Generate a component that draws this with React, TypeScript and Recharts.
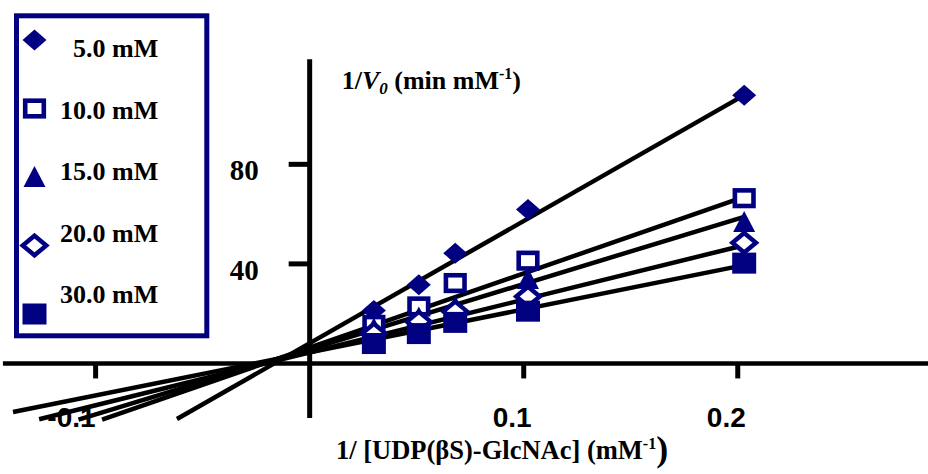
import React from 'react';
import { ComposedChart, Line, ReferenceLine, Scatter, XAxis, YAxis } from 'recharts';

// 1/[S] for each substrate level (mM^-1)
const invSubstrate = [0.030, 0.051, 0.068, 0.102, 0.203];

// 1/V0 readings per inhibitor concentration (min mM^-1)
const rate5mM = [21.3, 31.6, 44.3, 61.9, 107.8];
const rate10mM = [15.5, 22.9, 32.3, 41.3, 66.4];
const rate15mM = [14.0, 18.5, 22.9, 33.9, 56.8];
const rate20mM = [12.0, 16.8, 20.9, 26.9, 48.5];
const rate30mM = [8.0, 12.0, 16.5, 21.0, 40.3];

// fitted lines, left and right end points
const fitLeftX = [-0.062, -0.097, -0.108, -0.1264, -0.1386];
const fitLeftY = [-22.3, -22.6, -22.6, -22.4, -19.5];
const fitRightX = [0.203, 0.203, 0.203, 0.203, 0.203];
const fitRightY = [107.8, 66.9, 58.9, 47.5, 39.5];

const seriesNames = ['5.0 mM', '10.0 mM', '15.0 mM', '20.0 mM', '30.0 mM'];
const markerKinds = ['diamond', 'openSquare', 'triangle', 'openDiamond', 'square'];
const seriesRates = [rate5mM, rate10mM, rate15mM, rate20mM, rate30mM];

const xTickValues = [-0.1, 0.1, 0.2];
const xTickLabels = ['-0.1', '0.1', '0.2'];
const yTickValues = [40, 80];
const yTickLabels = ['40', '80'];

// extent of the drawn axis lines
const xAxisFrom = -0.1433;
const xAxisTo = 0.2889;
const yAxisFrom = -21.9;
const yAxisTo = 122.2;

const NAVY = '#000080';
const SERIF = '"Liberation Serif", "Times New Roman", serif';
const SANS = '"Liberation Sans", Arial, sans-serif';

const Marker = ({ kind, cx, cy }: { kind: string; cx: number; cy: number }) => {
  switch (kind) {
    case 'diamond':
      return <polygon points={`${cx},${cy - 10.5} ${cx + 12},${cy} ${cx},${cy + 10.5} ${cx - 12},${cy}`} fill={NAVY} />;
    case 'openSquare':
      return <rect x={cx - 9.3} y={cy - 7.8} width={18.6} height={15.6} fill="#fff" stroke={NAVY} strokeWidth={4.6} />;
    case 'triangle':
      return <polygon points={`${cx},${cy - 11} ${cx + 11},${cy + 10} ${cx - 11},${cy + 10}`} fill={NAVY} />;
    case 'openDiamond':
      return (
        <polygon
          points={`${cx},${cy - 9.8} ${cx + 11.8},${cy} ${cx},${cy + 9.8} ${cx - 11.8},${cy}`}
          fill="#fff"
          stroke={NAVY}
          strokeWidth={4.4}
        />
      );
    default:
      return <rect x={cx - 12} y={cy - 10.5} width={24} height={21} fill={NAVY} />;
  }
};

const App = () => {
  const xTickData = xTickValues.map((x, i) => ({ x, y: 0, label: xTickLabels[i] }));
  const yTickData = yTickValues.map((y, i) => ({ x: 0, y, label: yTickLabels[i] }));

  return (
    <div style={{ position: 'absolute', left: 0, top: 0, width: 928, height: 474, background: '#fff' }}>
      <ComposedChart width={928} height={474} margin={{ top: 15, right: 19, bottom: 11, left: 10 }}>
        <XAxis type="number" dataKey="x" domain={[-0.14, 0.28]} allowDataOverflow hide />
        <YAxis type="number" dataKey="y" domain={[-40, 140]} allowDataOverflow hide />

        <ReferenceLine
          segment={[{ x: xAxisFrom, y: 0 }, { x: xAxisTo, y: 0 }]}
          stroke="#000"
          strokeWidth={4.6}
          ifOverflow="visible"
        />
        <ReferenceLine
          segment={[{ x: 0, y: yAxisFrom }, { x: 0, y: yAxisTo }]}
          stroke="#000"
          strokeWidth={5}
          ifOverflow="visible"
        />

        <Scatter
          data={xTickData}
          dataKey="y"
          isAnimationActive={false}
          shape={(p: any) => (
            <g>
              <line x1={p.cx} y1={p.cy} x2={p.cx} y2={p.cy + 15} stroke="#000" strokeWidth={5} />
              <text
                x={p.cx + (p.payload.x < 0 ? 0 : 8)}
                y={p.cy + 64}
                textAnchor="end"
                fontFamily={SANS}
                fontWeight="bold"
                fontSize={28}
              >
                {p.payload.label}
              </text>
            </g>
          )}
        />
        <Scatter
          data={yTickData}
          dataKey="y"
          isAnimationActive={false}
          shape={(p: any) => (
            <g>
              <line x1={p.cx - 21} y1={p.cy} x2={p.cx} y2={p.cy} stroke="#000" strokeWidth={5} />
              <text x={p.cx - 51} y={p.cy + 16} textAnchor="end" fontFamily={SERIF} fontWeight="bold" fontSize={29}>
                {p.payload.label}
              </text>
            </g>
          )}
        />

        {seriesNames.map((name, i) => (
          <Line
            key={`fit-${name}`}
            data={[
              { x: fitLeftX[i], y: fitLeftY[i] },
              { x: fitRightX[i], y: fitRightY[i] },
            ]}
            dataKey="y"
            type="linear"
            stroke="#000"
            strokeWidth={4.5}
            dot={false}
            activeDot={false}
            isAnimationActive={false}
          />
        ))}

        {seriesNames.map((name, i) => (
          <Scatter
            key={`pts-${name}`}
            name={name}
            data={invSubstrate.map((x, j) => ({ x, y: seriesRates[i][j] }))}
            dataKey="y"
            isAnimationActive={false}
            shape={(p: any) => <Marker kind={markerKinds[i]} cx={p.cx} cy={p.cy} />}
          />
        ))}
      </ComposedChart>

      <svg width={928} height={474} style={{ position: 'absolute', left: 0, top: 0, pointerEvents: 'none' }}>
        {/* legend box */}
        <rect x={16.5} y={15.8} width={190.3} height={320} fill="#fff" stroke={NAVY} strokeWidth={5} />
        {seriesNames.map((name, i) => (
          <g key={`leg-${name}`}>
            <Marker kind={markerKinds[i]} cx={34.5} cy={40 + i * 68.5} />
            <text x={158.3} y={57 + i * 61.5} textAnchor="end" fontFamily={SERIF} fontWeight="bold" fontSize={26}>
              {name}
            </text>
          </g>
        ))}

        {/* y title */}
        <text x={341.7} y={89.3} fontFamily={SERIF} fontWeight="bold" fontSize={26}>
          1/<tspan fontStyle="italic">V</tspan>
          <tspan fontStyle="italic" fontSize={17} dy={5}>0</tspan>
          <tspan dy={-5}> (min mM</tspan>
          <tspan fontSize={16} dy={-10}>-1</tspan>
          <tspan dy={10}>)</tspan>
        </text>

        {/* x title */}
        <text x={336} y={459} fontFamily={SERIF} fontWeight="bold" fontSize={26.5}>
          1/ [UDP(βS)-GlcNAc] (mM
          <tspan fontSize={16} dy={-10}>-1</tspan>
          <tspan fontSize={36} dy={12}>)</tspan>
        </text>
      </svg>
    </div>
  );
};

export default App;
